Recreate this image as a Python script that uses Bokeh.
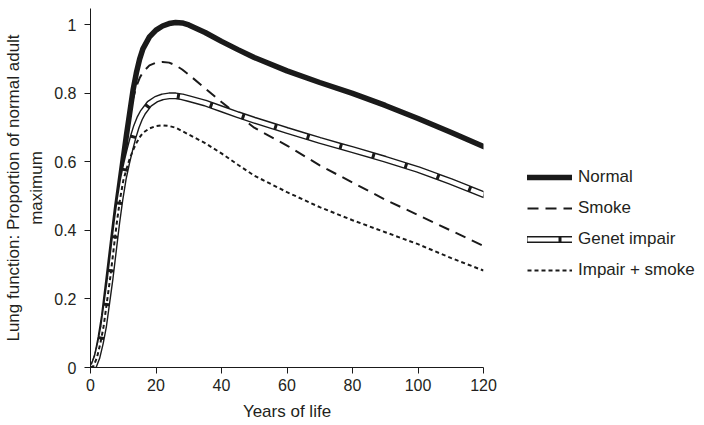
from bokeh.plotting import figure
from bokeh.models import Range1d, FixedTicker, Legend, LegendItem
from bokeh.embed import file_html
from bokeh.resources import INLINE

ages = [0, 1, 2, 3, 4, 5, 6, 7, 8, 9, 10, 11, 12, 13, 14, 15, 16, 18, 20, 22, 24, 26, 28, 30,
        35, 40, 45, 50, 60, 70, 80, 90, 100, 110, 120]
normal = [0, 0.01, 0.04, 0.09, 0.15, 0.23, 0.31, 0.39, 0.47, 0.54, 0.61, 0.68, 0.745, 0.81, 0.86,
          0.90, 0.93, 0.965, 0.985, 0.997, 1.004, 1.007, 1.006, 1.0,
          0.978, 0.952, 0.928, 0.905, 0.866, 0.832, 0.80, 0.765, 0.727, 0.687, 0.645]
smoke = [0, 0.01, 0.04, 0.09, 0.15, 0.23, 0.31, 0.39, 0.47, 0.54, 0.61, 0.675, 0.735, 0.785, 0.82,
         0.845, 0.862, 0.882, 0.89, 0.892, 0.89, 0.882, 0.87, 0.855,
         0.815, 0.775, 0.737, 0.70, 0.648, 0.59, 0.54, 0.49, 0.445, 0.40, 0.355]
genet = [0, 0.005, 0.03, 0.07, 0.12, 0.19, 0.26, 0.34, 0.42, 0.49, 0.55, 0.595, 0.635, 0.672, 0.703,
         0.727, 0.745, 0.77, 0.783, 0.79, 0.793, 0.793, 0.79, 0.785,
         0.772, 0.755, 0.738, 0.722, 0.692, 0.663, 0.636, 0.608, 0.578, 0.543, 0.505]
impair_smoke = [0, 0.005, 0.03, 0.07, 0.12, 0.19, 0.26, 0.34, 0.42, 0.49, 0.545, 0.58, 0.61, 0.635, 0.655,
                0.672, 0.685, 0.698, 0.705, 0.707, 0.705, 0.70, 0.69, 0.68,
                0.655, 0.625, 0.592, 0.56, 0.512, 0.468, 0.43, 0.395, 0.36, 0.32, 0.283]

x_ticks = [0, 20, 40, 60, 80, 100, 120]
y_ticks = [0, 0.2, 0.4, 0.6, 0.8, 1.0]
y_tick_labels = {0: "0", 0.2: "0.2", 0.4: "0.4", 0.6: "0.6", 0.8: "0.8", 1.0: "1"}

FONT = "Liberation Sans"
TXT = "#231f20"

p = figure(width=688, height=424, output_backend="svg", toolbar_location=None,
           x_range=Range1d(0, 120), y_range=Range1d(0, 1.048),
           frame_width=393, frame_height=359,
           min_border_left=90, min_border_right=0, min_border_top=8, min_border_bottom=57)
p.outline_line_color = None
p.xgrid.visible = False
p.ygrid.visible = False
p.background_fill_color = "white"

r_normal = p.line(ages, normal, line_color="#1a1a1a", line_width=5.5, line_cap="round")
r_smoke = p.line(ages, smoke, line_color="#1a1a1a", line_width=2, line_dash="11 7")
r_gb = p.line(ages, genet, line_color="#1a1a1a", line_width=7, line_cap="round")
r_gw = p.line(ages, genet, line_color="white", line_width=4.2, line_dash="31 3", line_cap="butt")
r_is = p.line(ages, impair_smoke, line_color="#1a1a1a", line_width=2, line_dash="4 3")

for ax in (p.xaxis[0], p.yaxis[0]):
    ax.axis_line_color = "#1a1a1a"
    ax.major_tick_line_color = "#1a1a1a"
    ax.major_tick_out = 6
    ax.major_tick_in = 0
    ax.minor_tick_line_color = None
    ax.major_label_text_font = FONT
    ax.major_label_text_font_size = "16px"
    ax.major_label_text_color = TXT
    ax.axis_label_text_font = FONT
    ax.axis_label_text_font_size = "17px"
    ax.axis_label_text_font_style = "normal"
    ax.axis_label_text_color = TXT

p.xaxis.ticker = FixedTicker(ticks=x_ticks)
p.yaxis.ticker = FixedTicker(ticks=y_ticks)
p.yaxis.major_label_overrides = y_tick_labels
p.xaxis.axis_label = "Years of life"
p.yaxis.axis_label = "Lung function: Proportion of normal adult\nmaximum"
p.xaxis.major_label_standoff = 5
p.yaxis.major_label_standoff = 8
p.xaxis.axis_label_standoff = 8
p.yaxis.axis_label_standoff = 5

legend = Legend(items=[
    LegendItem(label="Normal", renderers=[r_normal]),
    LegendItem(label="Smoke", renderers=[r_smoke]),
    LegendItem(label="Genet impair", renderers=[r_gb, r_gw]),
    LegendItem(label="Impair + smoke", renderers=[r_is]),
], location=(44, 87))
legend.border_line_color = None
legend.background_fill_alpha = 0
legend.padding = 0
legend.margin = 0
legend.glyph_width = 45
legend.glyph_height = 20
legend.label_height = 20
legend.spacing = 11
legend.label_standoff = 6
legend.label_text_font = FONT
legend.label_text_font_size = "17px"
legend.label_text_color = TXT
p.add_layout(legend, "right")

open("out.html", "w").write(file_html(p, INLINE))
